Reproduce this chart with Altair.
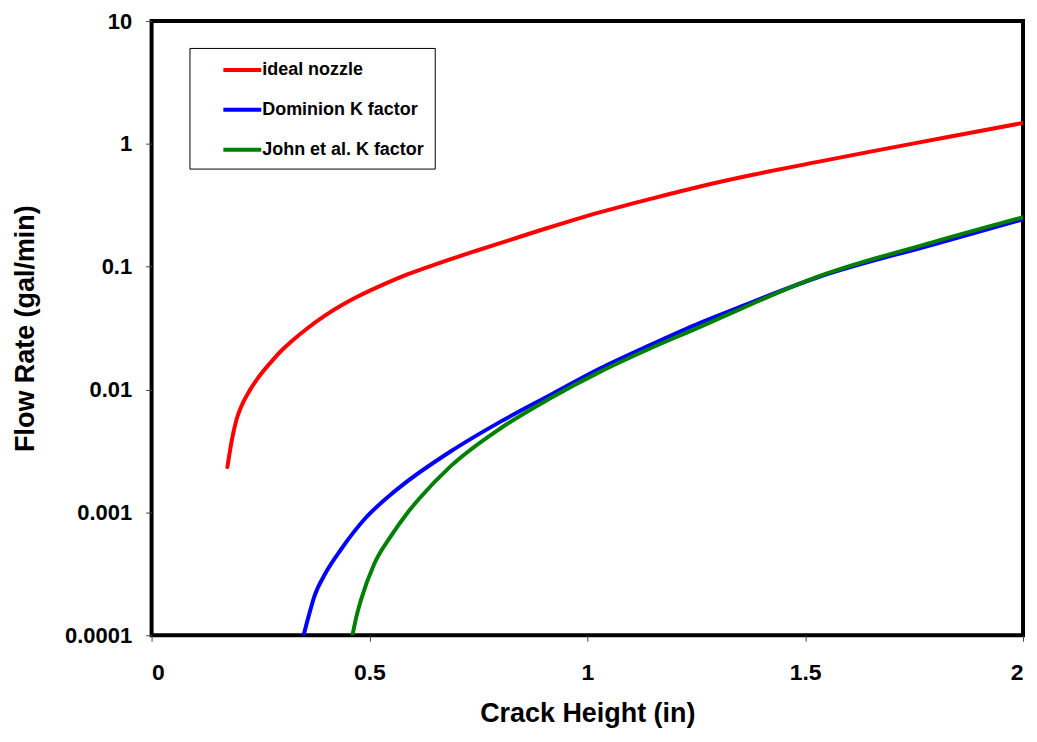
import altair as alt
import pandas as pd

# ---- data ----
series_names = ["ideal nozzle", "Dominion K factor", "John et al. K factor"]
series_colors = ["#FF0000", "#0000FF", "#008000"]

ideal_x = [0.174, 0.185, 0.195, 0.206, 0.225, 0.244, 0.27, 0.30, 0.32, 0.36, 0.397, 0.44,
           0.473, 0.53, 0.587, 0.66, 0.74, 0.82, 0.892, 0.96, 1.03, 1.15, 1.259, 1.38,
           1.526, 1.65, 1.75, 1.88, 2.0]
ideal_y = [0.00234, 0.0040, 0.0057, 0.0073, 0.0098, 0.0124, 0.0161, 0.0211, 0.0245, 0.0320,
           0.0398, 0.0494, 0.0571, 0.0711, 0.0865, 0.107, 0.133, 0.164, 0.198, 0.235, 0.278,
           0.36, 0.45, 0.56, 0.71, 0.865, 1.01, 1.23, 1.48]

dominion_x = [0.349, 0.36, 0.374, 0.40, 0.435, 0.49, 0.549, 0.572, 0.686, 0.801, 0.915,
              1.03, 1.144, 1.259, 1.335, 1.526, 1.792, 2.0]
dominion_y = [0.0001, 0.000141, 0.000209, 0.000324, 0.000501, 0.000891, 0.00140, 0.00163,
              0.00313, 0.00548, 0.00904, 0.0149, 0.0230, 0.0349, 0.0447, 0.0813, 0.151, 0.243]

john_x = [0.461, 0.47, 0.481, 0.511, 0.55, 0.587, 0.614, 0.686, 0.801, 0.915, 1.03, 1.144,
          1.259, 1.335, 1.526, 1.792, 2.0]
john_y = [0.0001, 0.000141, 0.000196, 0.00038, 0.000646, 0.00099, 0.00129, 0.00237, 0.00484,
          0.0085, 0.0140, 0.0216, 0.0324, 0.0427, 0.0822, 0.158, 0.253]

x_ticks = [0, 0.5, 1, 1.5, 2]
y_ticks = [0.0001, 0.001, 0.01, 0.1, 1, 10]

rows = []
for name, xs, ys in [(series_names[0], ideal_x, ideal_y),
                     (series_names[1], dominion_x, dominion_y),
                     (series_names[2], john_x, john_y)]:
    for xv, yv in zip(xs, ys):
        rows.append({"series": name, "x": xv, "y": yv})
df = pd.DataFrame(rows)

FONT = "Liberation Sans"

chart = alt.Chart(df).mark_line(
    strokeWidth=4, clip=True, interpolate="monotone", strokeCap="round"
).encode(
    x=alt.X("x:Q",
            scale=alt.Scale(domain=[0, 2], nice=False, zero=False),
            axis=alt.Axis(values=x_ticks, labelExpr="format(datum.value, '~g')",
                          title="Crack Height (in)", labelFontSize=23, labelPadding=20,
                          titlePadding=17)),
    y=alt.Y("y:Q",
            scale=alt.Scale(type="log", domain=[0.0001, 10], nice=False),
            axis=alt.Axis(values=y_ticks, labelExpr="format(datum.value, '~g')",
                          title="Flow Rate (gal/min)", labelFontSize=22, labelPadding=14,
                          titlePadding=25)),
    color=alt.Color("series:N",
                    scale=alt.Scale(domain=series_names, range=series_colors),
                    sort=series_names,
                    legend=alt.Legend(orient="none", legendX=38, legendY=27, title=None,
                                      symbolType="M-1.9,0L1.9,0", symbolSize=400,
                                      symbolStrokeWidth=4, labelFontSize=18,
                                      labelFontWeight="bold", labelFont=FONT,
                                      labelColor="black", labelLimit=400,
                                      padding=10, strokeColor="black", fillColor="white",
                                      rowPadding=19, symbolOffset=31, labelOffset=8)),
).properties(
    width=874, height=616,
    padding={"left": 3, "top": 1, "right": 5, "bottom": 5},
).configure(
    font=FONT,
).configure_view(
    stroke="black", strokeWidth=4,
).configure_axis(
    domain=False, grid=False, tickSize=6, tickColor="#444", tickWidth=1,
    labelFont=FONT, labelFontWeight="bold", labelColor="black",
    titleFont=FONT, titleFontWeight="bold", titleFontSize=27, titleColor="black",
)

chart.save("out.html", embed_options={"renderer": "svg", "actions": False})
